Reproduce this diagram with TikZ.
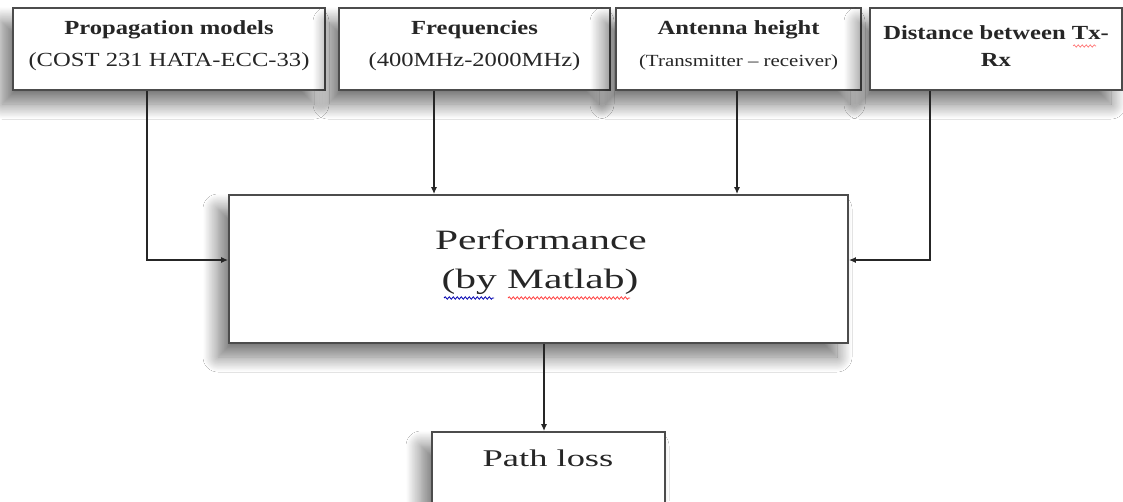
\documentclass[tikz,border=0pt]{standalone}
\usepackage{fontspec}
\setmainfont{Liberation Serif}
\usetikzlibrary{shadows.blur,arrows.meta,calc,decorations.pathmorphing}
\newcommand{\hs}[2][1.23]{\scalebox{#1}[1]{#2}}
\begin{document}
\begin{tikzpicture}[x=1pt,y=-1pt,
  boxstyle/.style={draw=black!70, line width=1.8pt, fill=white, inner sep=0pt,
    blur shadow={shadow xshift=-11pt, shadow yshift=-14pt, shadow blur radius=15pt, shadow blur steps=20, shadow opacity=55}},
  ttl/.style={font=\fontsize{20}{24}\selectfont\bfseries, text=black!85, inner sep=0pt},
  sub/.style={font=\fontsize{20}{24}\selectfont, text=black!85, inner sep=0pt},
  big/.style={font=\fontsize{28}{32}\selectfont, text=black!85, inner sep=0pt},
  squig/.style={line width=0.8pt, decorate, decoration={snake, amplitude=1.2pt, segment length=4pt}},
  arr/.style={draw=black!85, line width=1.3pt, -{Latex[length=7pt,width=6pt]}}]
\useasboundingbox (0,0) rectangle (1123,501);
\fill[white] (0,0) rectangle (1123,501);
% top boxes
\node[boxstyle, minimum width=312pt, minimum height=82pt] (b1) at (169,49) {};
\node[boxstyle, minimum width=271pt, minimum height=82pt] (b2) at (474.5,49) {};
\node[boxstyle, minimum width=245pt, minimum height=82pt] (b3) at (738.5,49) {};
\node[boxstyle, minimum width=252pt, minimum height=82pt] (b4) at (996,49) {};
% main boxes
\node[boxstyle, minimum width=619pt, minimum height=148pt] (m) at (538.5,269) {};
\node[boxstyle, minimum width=233pt, minimum height=86pt] (p) at (548.5,475) {};
% texts
\node[ttl] (t1a) at (169,30) {\hs{Propagation models}};
\node[sub] (t1b) at (169,62) {\hs{(COST 231 HATA-ECC-33)}};
\node[ttl] (t2a) at (474.5,30) {\hs{Frequencies}};
\node[sub] (t2b) at (474.5,62) {\hs{(400MHz-2000MHz)}};
\node[ttl] (t3a) at (738.5,30) {\hs{Antenna height}};
\node[sub, font=\fontsize{17}{20}\selectfont] (t3b) at (738.5,62) {\hs{(Transmitter -- receiver)}};
\node[ttl] (t4a) at (996,33) {\hs{Distance between Tx-}};
\node[ttl] (t4b) at (996,60) {\hs{Rx}};
\node[big] (mt1) at (541,240) {\hs[1.48]{Performance}};
\node[big] (mt2) at (540,282) {\hs[1.48]{(by Matlab)}};
\node[big, font=\fontsize{24}{28}\selectfont] (pt) at (548,458) {\hs[1.52]{Path loss}};
% spelling marks
\draw[squig, blue!70!black] (444,298) -- (494,298);
\draw[squig, red!75] (508,298) -- (630,298);
\draw[squig, red!60, line width=0.6pt] (1073,46) -- (1096,46);
% connectors
\coordinate (c1) at (147,260);
\coordinate (c2) at (434,0);
\coordinate (c3) at (737,0);
\coordinate (c4) at (930,260);
\coordinate (c5) at (544,0);
\draw[arr] (b1.south -| c1) |- (m.west |- c1);
\draw[arr] (b2.south -| c2) -- (m.north -| c2);
\draw[arr] (b3.south -| c3) -- (m.north -| c3);
\draw[arr] (b4.south -| c4) |- (m.east |- c4);
\draw[arr] (m.south -| c5) -- (p.north -| c5);
\end{tikzpicture}
\end{document}
